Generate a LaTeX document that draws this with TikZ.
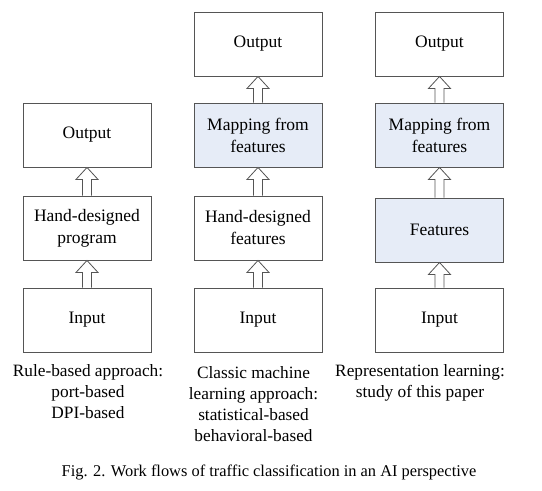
\documentclass[tikz,border=0pt]{standalone}
\usepackage{fontspec}
\setmainfont{Liberation Serif}
\usetikzlibrary{calc}
\definecolor{boxblue}{RGB}{230,236,247}
\definecolor{edgegray}{RGB}{85,85,85}
\newcommand{\hollowup}[2]{%
  \draw[hollow] let \p1=(#1.north), \p2=(#2.south) in
    (\x1-4.5pt,\y1) -- (\x1-4.5pt,\y2-12pt) -- (\x1-11pt,\y2-12pt) -- (\x1,\y2)
    -- (\x1+11pt,\y2-12pt) -- (\x1+4.5pt,\y2-12pt) -- (\x1+4.5pt,\y1);}
\begin{document}
\begin{tikzpicture}[x=1pt,y=-1pt,
  box/.style={draw=edgegray,line width=0.9pt,minimum width=128pt,minimum height=64pt,
    align=center,inner sep=0pt,font=\fontsize{17.5}{22}\selectfont},
  shaded/.style={box,fill=boxblue},
  hollow/.style={draw=edgegray,line width=0.8pt,fill=white,line join=miter},
  lab/.style={align=center,inner sep=0pt,font=\fontsize{17.3}{21}\selectfont},
  captiontext/.style={inner sep=0pt,font=\fontsize{16.4}{19}\selectfont}]
\useasboundingbox (0,0) rectangle (542,491);
% column 1
\node[box] (o1) at (87,135) {Output};
\node[box] (h1) at (87,228) {Hand-designed\\program};
\node[box] (i1) at (87,320) {Input};
% column 2
\node[box] (o2) at (258,44) {Output};
\node[shaded] (m2) at (258,135) {Mapping from\\features};
\node[box] (h2) at (258,228) {Hand-designed\\features};
\node[box] (i2) at (258,320) {Input};
% column 3
\node[box] (o3) at (439.5,44) {Output};
\node[shaded] (m3) at (439.5,135) {Mapping from\\features};
\node[shaded] (f3) at (439.5,230) {Features};
\node[box] (i3) at (439.5,320) {Input};
% arrows
\hollowup{i1}{h1}
\hollowup{h1}{o1}
\hollowup{i2}{h2}
\hollowup{h2}{m2}
\hollowup{m2}{o2}
\hollowup{i3}{f3}
\hollowup{f3}{m3}
\hollowup{m3}{o3}
% labels
\node[lab] (l1) at (88,392) {Rule-based approach:\\port-based\\DPI-based};
\node[lab] (l2) at (253.5,404) {Classic machine\\learning approach:\\statistical-based\\behavioral-based};
\node[lab] (l3) at (420,383) {Representation learning:\\study of this paper};
\node[captiontext] (c) at (269,472) {Fig. 2. Work flows of traffic classification in an AI perspective};
\end{tikzpicture}
\end{document}
